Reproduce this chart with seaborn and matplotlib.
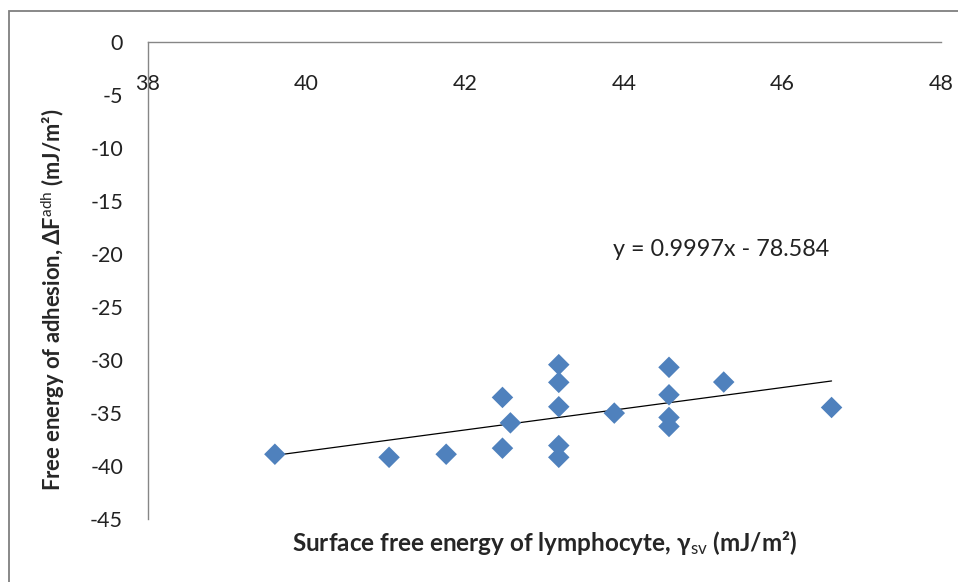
import numpy as np
import pandas as pd
import matplotlib
matplotlib.use("Agg")
import matplotlib.pyplot as plt
from matplotlib.patches import Rectangle
import seaborn as sns

# Surface free energy of lymphocyte, gamma_sv (mJ/m2)
gamma_sv = [39.60, 41.04, 41.76, 42.47, 42.47, 42.57, 43.18, 43.18, 43.18,
            43.18, 43.18, 43.88, 44.57, 44.57, 44.57, 44.57, 45.26, 46.62]
# Free energy of adhesion, dF_adh (mJ/m2)
delta_f = [-38.89, -39.18, -38.89, -33.53, -38.32, -35.93, -30.44, -32.11, -34.41,
           -38.07, -39.18, -35.01, -30.69, -33.28, -35.42, -36.27, -32.08, -34.48]

# Linear trendline as printed on the chart
slope = 0.9997
intercept = -78.584
eq_label = "y = 0.9997x - 78.584"

x_ticks = [38, 40, 42, 44, 46, 48]
y_ticks = [0, -5, -10, -15, -20, -25, -30, -35, -40, -45]

sns.set_style("white")
plt.rcParams['font.family'] = ['Lato', 'DejaVu Sans']
plt.rcParams['mathtext.fontset'] = 'custom'
plt.rcParams['mathtext.rm'] = 'Lato'
plt.rcParams['mathtext.it'] = 'Lato:italic'
plt.rcParams['mathtext.bf'] = 'Lato:bold'
plt.rcParams['axes.unicode_minus'] = False

df = pd.DataFrame({'gamma_sv': gamma_sv, 'delta_f': delta_f})
trend = pd.DataFrame({'x': [min(gamma_sv), max(gamma_sv)]})
trend['y'] = slope * trend['x'] + intercept

axis_grey = '#868686'

fig = plt.figure(figsize=(9.58, 5.82), dpi=100)
ax = fig.add_axes([148 / 958, 1 - 519 / 582, (941 - 148) / 958, (519 - 42) / 582])

# chart area border (Excel style)
fig.patches.append(Rectangle((9 / 958, -0.1), 1.2, 1 - 11 / 582 + 0.1,
                             transform=fig.transFigure, fill=False,
                             edgecolor='#7f7f7f', lw=1.3))

sns.lineplot(data=trend, x='x', y='y', color='black', lw=0.9, ax=ax, zorder=2)
sns.scatterplot(data=df, x='gamma_sv', y='delta_f', marker='D', s=120,
                color='#4F81BD', edgecolor='none', ax=ax, zorder=3)

ax.set_xlim(38, 48)
ax.set_ylim(-45, 0)
ax.set_xticks(x_ticks)
ax.set_yticks(y_ticks)
ax.set_xlabel('')
ax.set_ylabel('')

ax.spines['bottom'].set_position(('data', 0))
ax.spines['top'].set_visible(False)
ax.spines['right'].set_visible(False)
for s in ['bottom', 'left']:
    ax.spines[s].set_color(axis_grey)
    ax.spines[s].set_linewidth(1.0)

ax.tick_params(axis='x', direction='out', length=6, width=1.0, color=axis_grey,
               pad=17, labelsize=15.5, labelcolor='#222222')
ax.tick_params(axis='y', direction='out', length=7, width=1.0, color=axis_grey,
               pad=11, labelsize=15.5, labelcolor='#222222')

ax.text(43.86, -20.2, eq_label, fontsize=16.8, va='baseline', ha='left', color='#222222')

fig.text(545 / 958, 1 - 543 / 582,
         r'Surface free energy of lymphocyte, γ$_{\mathrm{sv}}$ (mJ/m²)',
         ha='center', va='center', fontsize=17.5, fontweight='bold')
fig.text(53 / 958, 1 - 300 / 582,
         r'Free energy of adhesion, ΔF$^{\mathrm{adh}}$ (mJ/m²)',
         ha='center', va='center', rotation=90, fontsize=15.8, fontweight='bold')

fig.savefig('out.png', dpi=100)
